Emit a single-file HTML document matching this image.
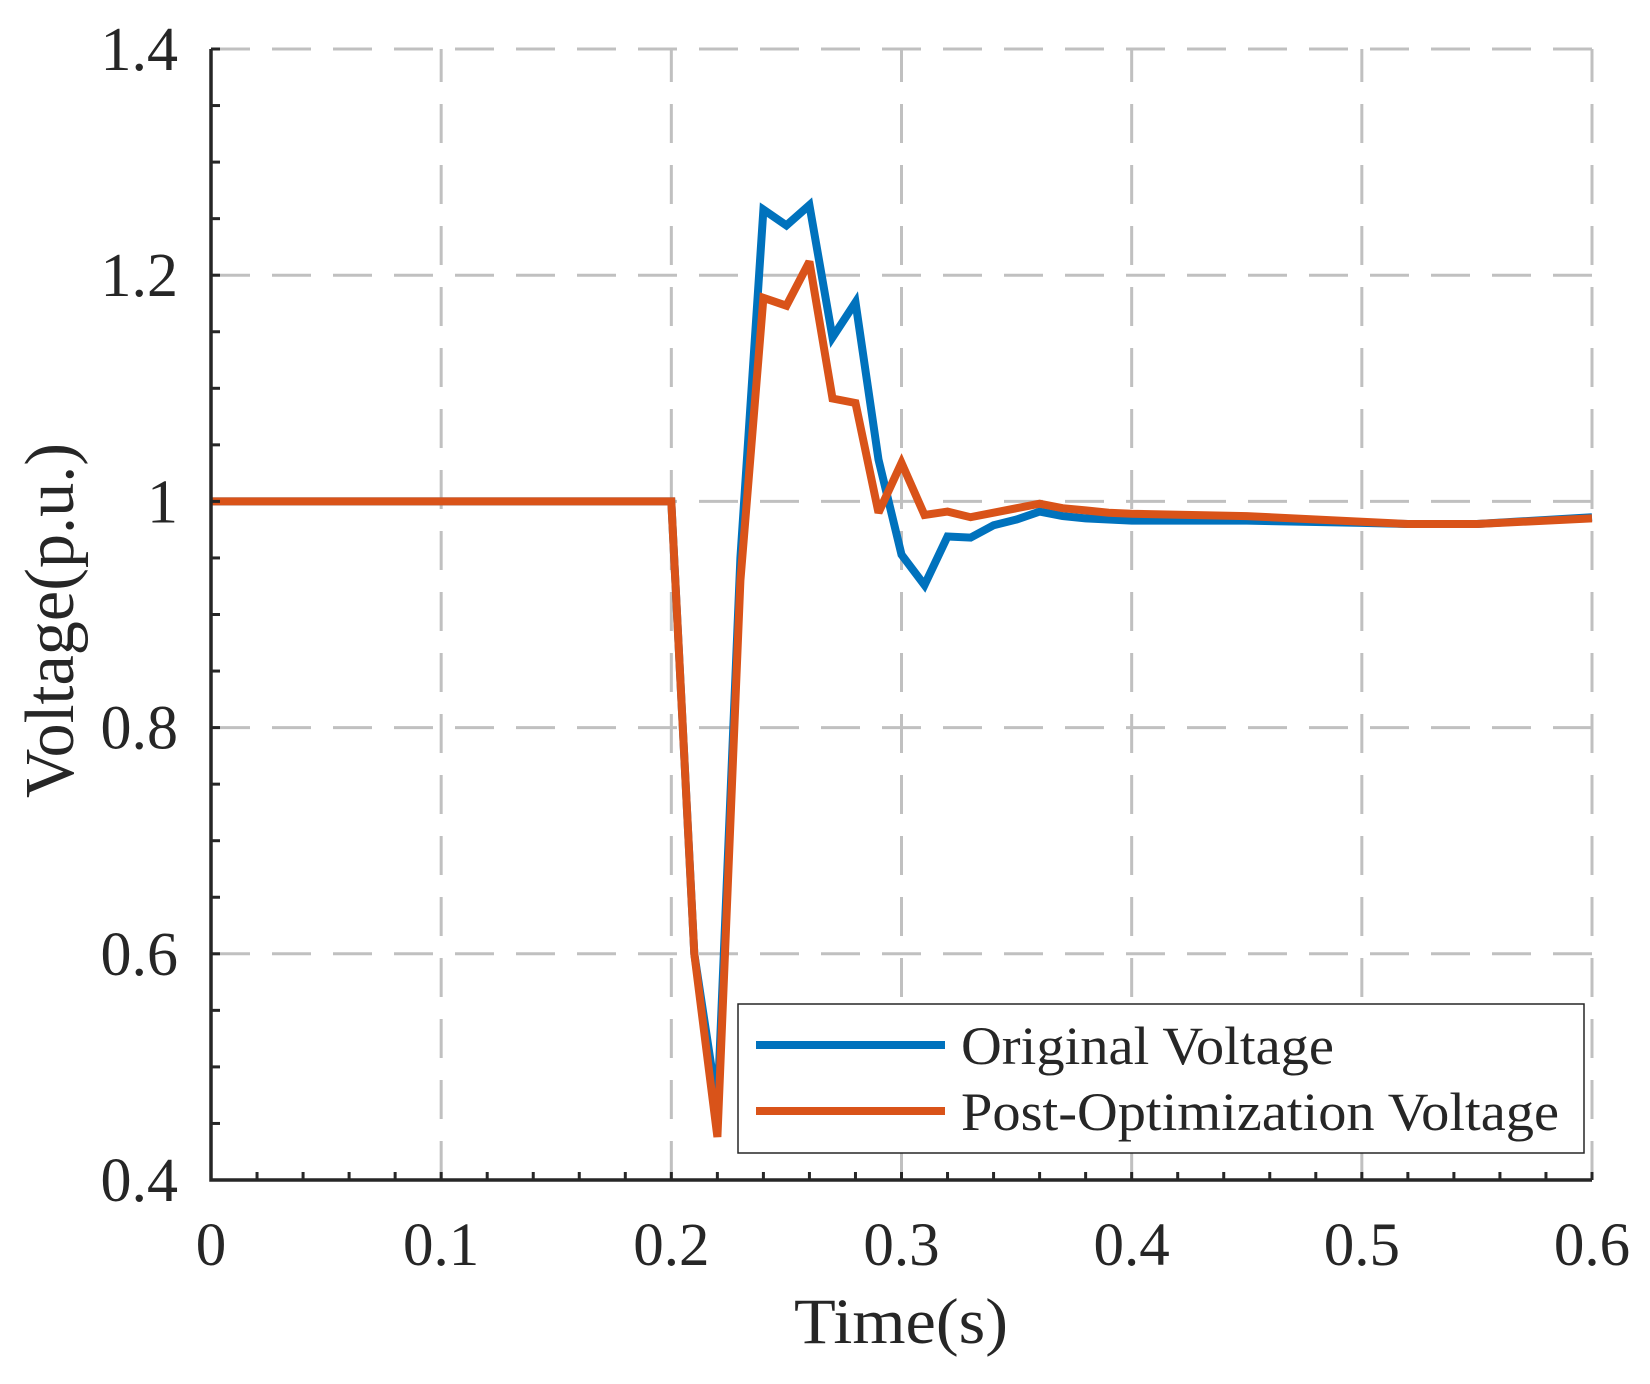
<!DOCTYPE html>
<html><head><meta charset="utf-8"><style>
html,body{margin:0;padding:0;background:#fff;}
svg{display:block;}
text{font-family:"Liberation Serif","Times New Roman",serif;fill:#262626;}
</style></head><body>
<svg id="chart" width="1650" height="1384" viewBox="0 0 1650 1384" xmlns="http://www.w3.org/2000/svg">
<g id="grid"></g>
<g id="series"></g>
<g id="axes"></g>
<g id="legend"></g>
</svg>
<script>
const times = [0,0.2,0.21,0.22,0.23,0.24,0.25,0.26,0.27,0.28,0.29,0.30,0.31,0.32,0.33,0.34,0.35,0.36,0.37,0.38,0.39,0.40,0.45,0.50,0.52,0.55,0.60];
const originalVoltage = [1,1,0.60,0.465,0.95,1.258,1.244,1.262,1.145,1.176,1.037,0.953,0.926,0.969,0.968,0.979,0.984,0.991,0.987,0.985,0.984,0.983,0.983,0.981,0.980,0.980,0.986];
const optimizedVoltage = [1,1,0.60,0.438,0.93,1.180,1.173,1.212,1.091,1.087,0.990,1.034,0.988,0.991,0.986,0.990,0.994,0.998,0.994,0.992,0.990,0.989,0.987,0.982,0.980,0.980,0.985];
const xTicks = [0,0.1,0.2,0.3,0.4,0.5,0.6];
const xTickLabels = ["0","0.1","0.2","0.3","0.4","0.5","0.6"];
const yTicks = [0.4,0.6,0.8,1.0,1.2,1.4];
const yTickLabels = ["0.4","0.6","0.8","1","1.2","1.4"];

const NS="http://www.w3.org/2000/svg";
const L=211,R=1592,T=49,B=1180;
const xs=v=>L+(v-0)/(0.6-0)*(R-L);
const ys=v=>B-(v-0.4)/(1.4-0.4)*(B-T);
function mk(tag,parent,attrs){const e=document.createElementNS(NS,tag);for(const k in attrs)e.setAttribute(k,attrs[k]);parent.appendChild(e);return e;}
const grid=document.getElementById('grid'),axes=document.getElementById('axes'),ser=document.getElementById('series'),leg=document.getElementById('legend');

xTicks.forEach((t,i)=>{
  const g=mk('line',grid,{x1:xs(t),x2:xs(t),y1:B,y2:T,stroke:'#c0c0c0','stroke-width':3,'stroke-dasharray':'39 22'});
  
  
  const lb=mk('text',axes,{x:xs(t),y:1265,'font-size':61,'text-anchor':'middle'});
  lb.textContent=xTickLabels[i];
  
  
});
yTicks.forEach((t,i)=>{
  const g=mk('line',grid,{x1:L,x2:R,y1:ys(t),y2:ys(t),stroke:'#c0c0c0','stroke-width':3,'stroke-dasharray':'39 22'});
  
  
  const lb=mk('text',axes,{x:178,y:ys(t)+21,'font-size':62,'text-anchor':'end'});
  lb.textContent=yTickLabels[i];
  
  
});
for(let k=0;k<=30;k++){const v=k*0.02;const tk=mk('line',axes,{x1:xs(v),x2:xs(v),y1:B,y2:B-8,stroke:'#262626','stroke-width':3});
  
  }
for(let k=0;k<=20;k++){const v=0.4+k*0.05;const tk=mk('line',axes,{x1:L,x2:L+9,y1:ys(v),y2:ys(v),stroke:'#262626','stroke-width':3});
  
  }
const ax=mk('path',axes,{d:`M${L} ${T} V${B} H${R}`,fill:'none',stroke:'#262626','stroke-width':3.5});



function line(vals,color,name){
  const d=times.map((t,i)=>(i?'L':'M')+xs(t).toFixed(1)+' '+ys(vals[i]).toFixed(1)).join(' ');
  const p=mk('path',ser,{d:d,fill:'none',stroke:color,'stroke-width':8,'stroke-linejoin':'miter','stroke-miterlimit':3});
  
  
}
line(originalVoltage,'#0072BD','original-voltage-line');
line(optimizedVoltage,'#D95319','post-optimization-voltage-line');

const box=mk('rect',leg,{x:738,y:1004,width:846,height:149,fill:'#fff',stroke:'#262626','stroke-width':1.5});


const s1=mk('line',leg,{x1:756,x2:945,y1:1045,y2:1045,stroke:'#0072BD','stroke-width':8});


const s2=mk('line',leg,{x1:756,x2:945,y1:1111,y2:1111,stroke:'#D95319','stroke-width':8});


const t1=mk('text',leg,{x:961,y:1064,'font-size':54,textLength:373,lengthAdjust:'spacingAndGlyphs',fill:'#000'});
t1.textContent='Original Voltage';


const t2=mk('text',leg,{x:961,y:1130,'font-size':54,textLength:598,lengthAdjust:'spacingAndGlyphs',fill:'#000'});
t2.textContent='Post-Optimization Voltage';



const xl=mk('text',axes,{x:794,y:1343,'font-size':65,textLength:214,lengthAdjust:'spacingAndGlyphs'});
xl.textContent='Time(s)';


const yl=mk('text',axes,{x:0,y:0,'font-size':70,textLength:355,lengthAdjust:'spacingAndGlyphs',transform:'translate(73,798) rotate(-90)'});
yl.textContent='Voltage(p.u.)';


</script>
</body></html>
